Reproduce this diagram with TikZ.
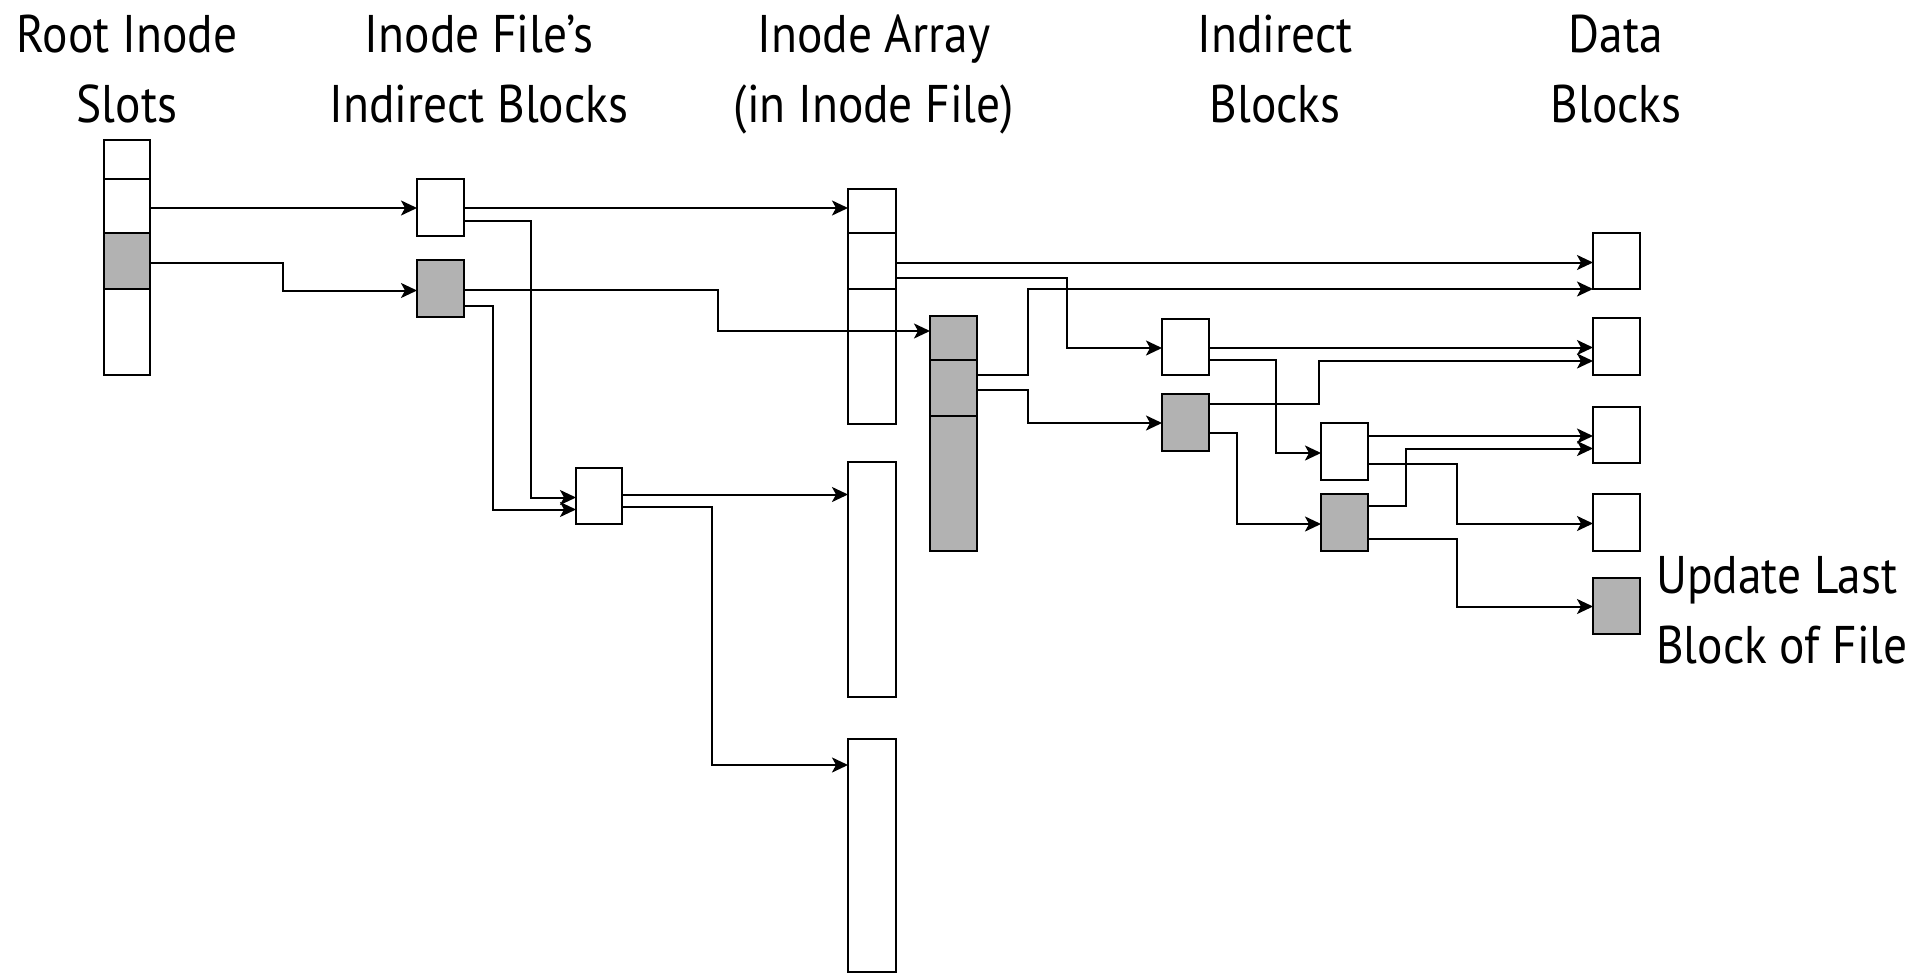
\documentclass[tikz,border=0pt]{standalone}
\usepackage{fontspec}
\setmainfont[FakeStretch=0.895]{PT Sans}
\usetikzlibrary{arrows.meta}
\begin{document}
\begin{tikzpicture}[x=1pt,y=-1pt,
  blk/.style={draw=black, line width=2.4pt, inner sep=0pt, outer sep=0pt, fill=white, anchor=north west},
  gblk/.style={blk, fill=black!30},
  arr/.style={line width=2pt, -{Stealth[length=16pt,width=15pt,inset=4pt]}},
  lbl/.style={font=\fontsize{53}{70}\selectfont, align=center, inner sep=0pt, anchor=north},
]
\useasboundingbox (0,0) rectangle (1917,974);

% labels
\node[lbl] (t1) at (127,7)    {\rule{0pt}{45pt}Root Inode\\Slots};
\node[lbl] (t2) at (479,7)    {\rule{0pt}{45pt}Inode File's\\Indirect Blocks};
\node[lbl] (t3) at (874,7)    {\rule{0pt}{45pt}Inode Array\\(in Inode File)};
\node[lbl] (t4) at (1275,7)   {\rule{0pt}{45pt}Indirect\\Blocks};
\node[lbl] (t5) at (1616,7)   {\rule{0pt}{45pt}Data\\Blocks};
\node[lbl, align=left, anchor=north west] (t6) at (1656,548) {\rule{0pt}{45pt}Update Last\\Block of File};

% root inode slots
\node[blk,  minimum width=46pt, minimum height=39pt] (r1) at (104,140) {};
\node[blk,  minimum width=46pt, minimum height=54pt] (r2) at (104,179) {};
\node[gblk, minimum width=46pt, minimum height=56pt] (r3) at (104,233) {};
\node[blk,  minimum width=46pt, minimum height=86pt] (r4) at (104,289) {};

% inode file's indirect blocks
\node[blk,  minimum width=47pt, minimum height=57pt] (A) at (417,179) {};
\node[gblk, minimum width=47pt, minimum height=57pt] (B) at (417,260) {};
\node[blk,  minimum width=46pt, minimum height=56pt] (C) at (576,468) {};

% inode array
\node[blk,  minimum width=48pt, minimum height=44pt]  (i1) at (848,189) {};
\node[blk,  minimum width=48pt, minimum height=56pt]  (i2) at (848,233) {};
\node[blk,  minimum width=48pt, minimum height=135pt] (i3) at (848,289) {};
\node[blk,  minimum width=48pt, minimum height=235pt] (i4) at (848,462) {};
\node[blk,  minimum width=48pt, minimum height=233pt] (i5) at (848,739) {};
\node[gblk, minimum width=47pt, minimum height=44pt]  (g1) at (930,316) {};
\node[gblk, minimum width=47pt, minimum height=56pt]  (g2) at (930,360) {};
\node[gblk, minimum width=47pt, minimum height=135pt] (g3) at (930,416) {};

% indirect blocks
\node[blk,  minimum width=47pt, minimum height=56pt] (D) at (1162,319) {};
\node[gblk, minimum width=47pt, minimum height=57pt] (E) at (1162,394) {};
\node[blk,  minimum width=47pt, minimum height=57pt] (F) at (1321,423) {};
\node[gblk, minimum width=47pt, minimum height=57pt] (G) at (1321,494) {};

% data blocks
\node[blk,  minimum width=47pt, minimum height=56pt] (d1) at (1593,233) {};
\node[blk,  minimum width=47pt, minimum height=57pt] (d2) at (1593,318) {};
\node[blk,  minimum width=47pt, minimum height=56pt] (d3) at (1593,407) {};
\node[blk,  minimum width=47pt, minimum height=57pt] (d4) at (1593,494) {};
\node[gblk, minimum width=47pt, minimum height=56pt] (d5) at (1593,578) {};

% connectors
\draw[arr] ([yshift=-2pt]r2.east) -- ([yshift=-0.5pt]A.west);
\draw[arr] ([yshift=-1.7pt]r3.east) -- ++(132.7,0) |- ([yshift=-2pt]B.west);
\draw[arr] ([yshift=-0.5pt]A.east) -- ([yshift=3pt]i1.west);
\draw[arr] ([yshift=-13pt]A.east) -- ++(67,0) |- ([yshift=-1.5pt]C.west);
\draw[arr] ([yshift=-1pt]B.east) -- ++(254,0) |- ([yshift=7pt]g1.west);
\draw[arr] ([yshift=-17.5pt]B.east) -- ++(28.5,0) |- ([yshift=-13.5pt]C.west);
\draw[arr] ([yshift=1.5pt]C.east) -- ([yshift=85pt]i4.west);
\draw[arr] ([yshift=-11pt]C.east) -- ++(90,0) |- ([yshift=90.5pt]i5.west);
\draw[arr] ([yshift=-1.5pt]i2.east) -- ([yshift=-1.5pt]d1.west);
\draw[arr] ([yshift=-16.5pt]i2.east) -- ++(170.7,0) |- ([yshift=-1pt]D.west);
\draw[arr] ([yshift=13pt]g2.east) -- ++(50.7,0) |- ([yshift=-28pt]d1.west);
\draw[arr] ([yshift=-1.5pt]g2.east) -- ++(50.7,0) |- ([yshift=-0.5pt]E.west);
\draw[arr] ([yshift=-0.5pt]D.east) -- ([yshift=-1pt]d2.west);
\draw[arr] ([yshift=-13pt]D.east) -- ++(67,0) |- ([yshift=-1.5pt]F.west);
\draw[arr] ([yshift=19pt]E.east) -- ++(109.6,0) |- ([yshift=-14.5pt]d2.west);
\draw[arr] ([yshift=-10pt]E.east) -- ++(28,0) |- ([yshift=-1.5pt]G.west);
\draw[arr] ([yshift=15.5pt]F.east) -- ([yshift=-1pt]d3.west);
\draw[arr] ([yshift=-12pt]F.east) -- ++(88.8,0) |- ([yshift=-1pt]d4.west);
\draw[arr] ([yshift=16.5pt]G.east) -- ++(37.7,0) |- ([yshift=-13.5pt]d3.west);
\draw[arr] ([yshift=-16pt]G.east) -- ++(88.8,0) |- ([yshift=-0.5pt]d5.west);
\end{tikzpicture}
\end{document}
